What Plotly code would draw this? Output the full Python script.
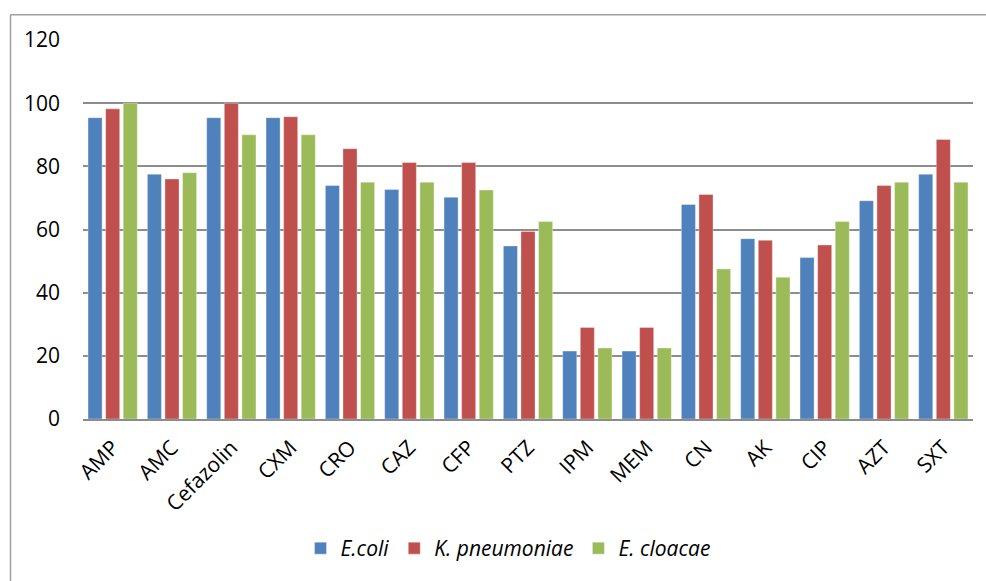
import plotly.graph_objects as go

# Resistance rates (%) per antibiotic for each species
antibiotics = ["AMP", "AMC", "Cefazolin", "CXM", "CRO", "CAZ", "CFP", "PTZ",
               "IPM", "MEM", "CN", "AK", "CIP", "AZT", "SXT"]
e_coli = [95.4, 77.5, 95.4, 95.4, 73.9, 72.7, 70.2, 54.8, 21.5, 21.5, 67.9, 57.1, 51.1, 69.1, 77.5]
k_pneumoniae = [98.2, 76.0, 100.0, 95.7, 85.6, 81.2, 81.2, 59.4, 29.0, 29.0, 71.1, 56.6, 55.1, 73.9, 88.5]
e_cloacae = [100.0, 78.0, 90.0, 90.0, 75.0, 75.0, 72.5, 62.5, 22.5, 22.5, 47.5, 44.9, 62.5, 75.0, 75.0]
y_ticks = [0, 20, 40, 60, 80, 100, 120]

series = [
    ("E.coli", e_coli, "#4F81BD"),
    ("K. pneumoniae", k_pneumoniae, "#C0504D"),
    ("E. cloacae", e_cloacae, "#9BBB59"),
]

font_family = "Open Sans, Lato, DejaVu Sans, sans-serif"

fig = go.Figure()
for name, vals, color in series:
    fig.add_trace(go.Bar(
        x=antibiotics, y=vals, name=name,
        marker=dict(color=color, line=dict(color="rgba(255,255,255,0.6)", width=0.6)),
    ))

W, H = 986, 581
L, R, T, B = 83, 13, 39.5, 159.5
pw, ph = W - L - R, H - T - B

def px(x):
    return (x - L) / pw

def py(y):
    return (H - B - y) / ph

fig.update_layout(
    width=W, height=H,
    margin=dict(l=L, r=R, t=T, b=B, pad=0),
    paper_bgcolor="white", plot_bgcolor="white",
    barmode="group", bargap=0.11, bargroupgap=0.2,
    font=dict(family=font_family, size=21, color="#000000"),
    showlegend=True,
    legend=dict(
        orientation="h", x=px(508), xanchor="center", y=py(552), yanchor="middle",
        font=dict(family=font_family, size=21, style="italic"),
        itemwidth=30, traceorder="normal",
    ),
    xaxis=dict(
        tickangle=-45, showgrid=False, showline=True, linecolor="#8C8C8C",
        linewidth=2, ticks="", tickfont=dict(size=21), ticklabelstandoff=6,
    ),
    yaxis=dict(
        range=[0, 120], tickvals=y_ticks, showgrid=True, gridcolor="#8C8C8C",
        gridwidth=1.5, zeroline=False, showline=False, ticks="",
        ticklabelstandoff=22, tickfont=dict(size=21),
    ),
    shapes=[
        dict(type="line", xref="paper", yref="paper", x0=px(10.5), x1=px(990),
             y0=py(14), y1=py(14), line=dict(color="#A0A0A0", width=1.5)),
        dict(type="line", xref="paper", yref="paper", x0=px(10.5), x1=px(10.5),
             y0=py(14), y1=py(590), line=dict(color="#A0A0A0", width=1.5)),
    ],
)

fig.write_html("out.html")
